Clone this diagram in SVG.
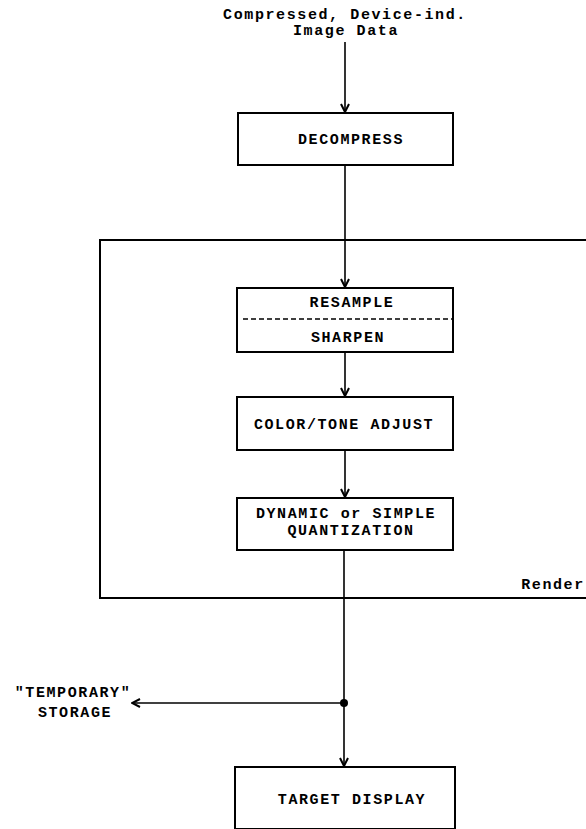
<svg xmlns="http://www.w3.org/2000/svg" width="586" height="829" viewBox="0 0 586 829">
<style>
text{font-family:"Liberation Mono","Courier New",monospace;font-size:15px;fill:#000;letter-spacing:1.6px;text-anchor:middle;font-weight:bold}
.box{fill:none;stroke:#000;stroke-width:2}
.ln{fill:none;stroke:#000;stroke-width:1.6}
</style>
<defs>
<marker id="ah" viewBox="0 0 10 10" refX="9" refY="5" markerWidth="10" markerHeight="10" markerUnits="userSpaceOnUse" orient="auto">
<path d="M1,1 L9,5 L1,9" fill="none" stroke="#000" stroke-width="2"/>
</marker>
</defs>
<g id="input">
<text x="345" y="19">Compressed, Device-ind.</text>
<text x="346" y="35">Image Data</text>
</g>
<g id="render-group">
<path class="box" d="M590,240 H100 V598 H590"/>
<text x="553" y="589">Render</text>
</g>
<g id="decompress">
<rect class="box" x="238" y="113" width="215" height="52"/>
<text x="351" y="144">DECOMPRESS</text>
</g>
<g id="resample-sharpen">
<rect class="box" x="237" y="288" width="216" height="64"/>
<text x="352" y="307">RESAMPLE</text>
<line x1="243" y1="319" x2="452" y2="319" stroke="#000" stroke-width="1.6" stroke-dasharray="5,3"/>
<text x="348" y="342">SHARPEN</text>
</g>
<g id="color-tone">
<rect class="box" x="237" y="397" width="216" height="53"/>
<text x="344" y="429">COLOR/TONE ADJUST</text>
</g>
<g id="quantization">
<rect class="box" x="237" y="498" width="216" height="52"/>
<text x="346" y="518">DYNAMIC or SIMPLE</text>
<text x="351" y="535">QUANTIZATION</text>
</g>
<g id="temporary-storage">
<text x="73" y="697">"TEMPORARY"</text>
<text x="75" y="717">STORAGE</text>
</g>
<g id="target-display">
<rect class="box" x="235" y="767" width="220" height="62"/>
<text x="352" y="804">TARGET DISPLAY</text>
</g>
<g id="connectors">
<line class="ln" x1="345" y1="42" x2="345" y2="112" marker-end="url(#ah)"/>
<line class="ln" x1="345" y1="165" x2="345" y2="287" marker-end="url(#ah)"/>
<line class="ln" x1="345" y1="352" x2="345" y2="396" marker-end="url(#ah)"/>
<line class="ln" x1="345" y1="450" x2="345" y2="497" marker-end="url(#ah)"/>
<line class="ln" x1="344" y1="550" x2="344" y2="766" marker-end="url(#ah)"/>
<line class="ln" x1="344" y1="703" x2="132" y2="703" marker-end="url(#ah)"/>
<circle cx="344" cy="703" r="4" fill="#000"/>
</g>
</svg>
